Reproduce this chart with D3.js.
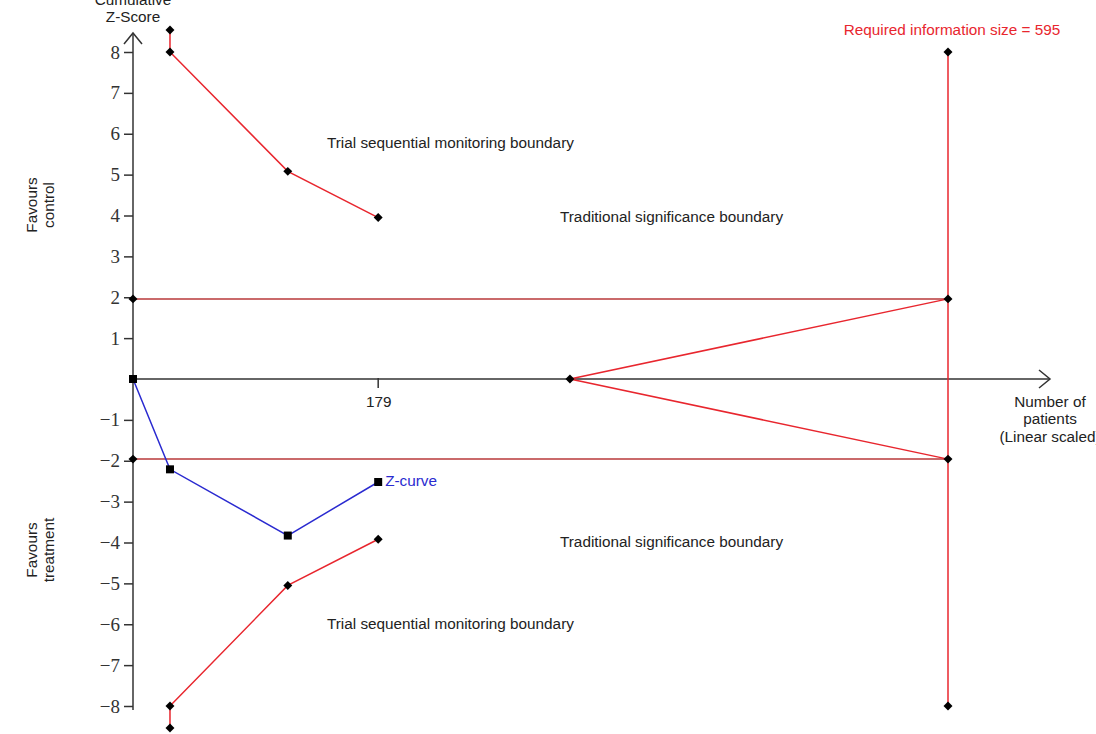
<!DOCTYPE html>
<html>
<head>
<meta charset="utf-8">
<script src="https://cdn.jsdelivr.net/npm/d3@7"></script>
<style>
  body { margin: 0; background: #fff; }
</style>
</head>
<body>
<svg id="chart"></svg>
<script>
// Size of the picture
const width = 1096;
const height = 734;

// Data (number of patients / cumulative Z)
const requiredSize = 595;
const xTicks = [179];
const yTicks = [-8, -7, -6, -5, -4, -3, -2, -1, 1, 2, 3, 4, 5, 6, 7, 8];

const zPatients = [0, 27, 113, 179];
const zValues = [0, -2.21, -3.83, -2.52];

const tsmPatients = [27, 27, 113, 179];
const tsmUpper = [8.54, 8.0, 5.08, 3.95];
const tsmLower = [-8.54, -8.0, -5.05, -3.92];

const tradZ = [1.96, -1.96];
const futilityStart = 319;

// Scales
const x = d3.scaleLinear().domain([0, requiredSize]).range([133, 948]);
const y = d3.scaleLinear().domain([-8, 8]).range([706, 52]);

const svg = d3.select("#chart")
  .attr("width", width)
  .attr("height", height)
  .style("font-family", '"Liberation Sans", Arial, sans-serif');

const redLine = "#e8262e";
const darkRed = "#b8383a";
const sans = '"Liberation Sans", Arial, sans-serif';
const serif = '"Liberation Serif", "DejaVu Serif", serif';
const fs = 15.3;

// Y axis (ticks only, the vertical line is drawn separately with an arrow)
const yAxis = d3.axisLeft(y).tickValues(yTicks).tickSize(9).tickPadding(4)
  .tickFormat(d => d < 0 ? "\u2212" + Math.abs(d) : d);
const gy = svg.append("g")
  .attr("transform", `translate(${x(0)}, 0)`)
  .call(yAxis)
  .attr("font-family", serif)
  .attr("font-size", 19);
gy.select(".domain").remove();
gy.selectAll(".tick line").attr("stroke", "#333").attr("stroke-width", 1.5);
gy.selectAll(".tick text")
  .style("font-family", serif)
  .style("font-size", "19px")
  .attr("fill", "#333");

// Y axis line with arrow
svg.append("line")
  .attr("x1", x(0)).attr("x2", x(0))
  .attr("y1", 710).attr("y2", 34)
  .attr("stroke", "#333").attr("stroke-width", 1.5);
svg.append("path")
  .attr("d", `M${x(0) - 9},${44} L${x(0)},${33} L${x(0) + 9},${44}`)
  .attr("fill", "none").attr("stroke", "#333").attr("stroke-width", 1.5);

// X axis line with arrow
svg.append("line")
  .attr("x1", x(0)).attr("x2", 1050)
  .attr("y1", y(0)).attr("y2", y(0))
  .attr("stroke", "#333").attr("stroke-width", 1.5);
svg.append("path")
  .attr("d", `M1039,${y(0) - 9} L1050,${y(0)} L1039,${y(0) + 9}`)
  .attr("fill", "none").attr("stroke", "#333").attr("stroke-width", 1.5);

const xAxis = d3.axisBottom(x).tickValues(xTicks).tickSize(0).tickPadding(17);
const gx = svg.append("g")
  .attr("transform", `translate(0, ${y(0)})`)
  .call(xAxis);
gx.select(".domain").remove();
gx.selectAll(".tick text").attr("font-family", sans).attr("font-size", fs).attr("fill", "#222");
svg.selectAll(null).data(xTicks).enter().append("line")
  .attr("x1", d => x(d)).attr("x2", d => x(d))
  .attr("y1", y(0) - 1).attr("y2", y(0) + 9)
  .attr("stroke", "#333").attr("stroke-width", 1.5);

// Traditional significance boundary
svg.selectAll(null).data(tradZ).enter().append("line")
  .attr("x1", x(0)).attr("x2", x(requiredSize))
  .attr("y1", d => y(d)).attr("y2", d => y(d))
  .attr("stroke", darkRed).attr("stroke-width", 1.5);

// Futility wedge
svg.selectAll(null).data(tradZ).enter().append("line")
  .attr("x1", x(futilityStart)).attr("y1", y(0))
  .attr("x2", x(requiredSize)).attr("y2", d => y(d))
  .attr("stroke", redLine).attr("stroke-width", 1.5);

// Required information size line
svg.append("line")
  .attr("x1", x(requiredSize)).attr("x2", x(requiredSize))
  .attr("y1", y(8)).attr("y2", y(-8))
  .attr("stroke", redLine).attr("stroke-width", 1.5);

// Monitoring boundaries
const line = d3.line().x(d => x(d[0])).y(d => y(d[1]));
[tsmUpper, tsmLower].forEach(vals => {
  const pts = tsmPatients.map((p, i) => [p, vals[i]]);
  svg.append("path")
    .attr("d", line(pts))
    .attr("fill", "none").attr("stroke", redLine).attr("stroke-width", 1.5);
});

// Z-curve
const zPts = zPatients.map((p, i) => [p, zValues[i]]);
svg.append("path")
  .attr("d", line(zPts))
  .attr("fill", "none").attr("stroke", "#2a2ad0").attr("stroke-width", 1.5);

// Diamonds
const diamonds = [];
tsmPatients.forEach((p, i) => { diamonds.push([p, tsmUpper[i]]); diamonds.push([p, tsmLower[i]]); });
tradZ.forEach(z => { diamonds.push([0, z]); diamonds.push([requiredSize, z]); });
diamonds.push([futilityStart, 0]);
diamonds.push([requiredSize, 8]);
diamonds.push([requiredSize, -8]);

svg.selectAll(".diamond").data(diamonds).enter().append("path")
  .attr("class", "diamond")
  .attr("d", d3.symbol(d3.symbolSquare, 40))
  .attr("transform", d => `translate(${x(d[0])}, ${y(d[1])}) rotate(45)`)
  .attr("fill", "#000");

// Squares of the Z-curve
svg.selectAll(".zsq").data(zPts).enter().append("rect")
  .attr("class", "zsq")
  .attr("x", d => x(d[0]) - 4).attr("y", d => y(d[1]) - 4)
  .attr("width", 8).attr("height", 8)
  .attr("fill", "#000");

// Texts
function label(txt, tx, ty, color, anchor) {
  svg.append("text")
    .attr("x", tx).attr("y", ty)
    .attr("font-size", fs)
    .attr("fill", color || "#222")
    .attr("text-anchor", anchor || "start")
    .attr("dominant-baseline", "middle")
    .text(txt);
}
label("Trial sequential monitoring boundary", 327, 144);
label("Trial sequential monitoring boundary", 327, 625);
label("Traditional significance boundary", 560, 218);
label("Traditional significance boundary", 560, 543);
label("Z-curve", x(179) + 7, y(-2.52), "#2a2ad0");
label("Required information size = 595", 952, 31, "#e8262e", "middle");
label("Cumulative", x(0), 1, "#222", "middle");
label("Z-Score", x(0), 18, "#222", "middle");
label("Number of", 1050, 403, "#222", "middle");
label("patients", 1050, 420, "#222", "middle");
label("(Linear scaled)", 1050, 438, "#222", "middle");

// Rotated side labels
function sideLabel(lines, cy) {
  const t = svg.append("text")
    .attr("transform", `translate(39, ${cy}) rotate(-90)`)
    .attr("font-size", fs)
    .attr("fill", "#222")
    .attr("text-anchor", "middle");
  lines.forEach((l, i) => {
    t.append("tspan").attr("x", 0).attr("dy", i === 0 ? "-0.1em" : "1.05em").text(l);
  });
}
sideLabel(["Favours", "control"], 205);
sideLabel(["Favours", "treatment"], 550);
</script>
</body>
</html>
